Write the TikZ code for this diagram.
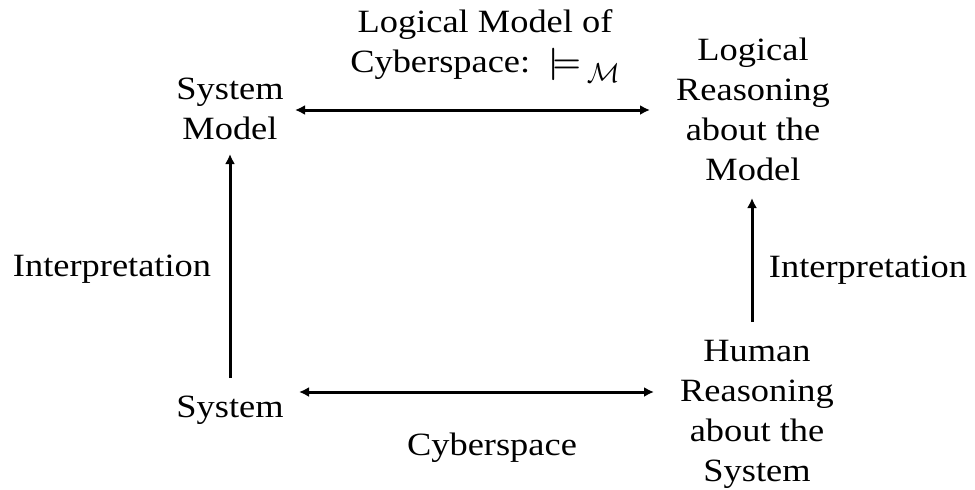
\documentclass[tikz,border=0pt]{standalone}
\usepackage{fontspec}
\setmainfont{Liberation Serif}[FakeStretch=1.12]
\usetikzlibrary{arrows.meta}
\begin{document}
\begin{tikzpicture}[x=1pt,y=-1pt,
  lbl/.style={align=center, anchor=base, inner sep=0pt, font=\fontsize{32.5}{40}\selectfont},
  conn/.style={line width=3pt, {Latex[length=10pt,width=10pt]}-{Latex[length=10pt,width=10pt]}},
  upconn/.style={line width=3pt, -{Latex[length=10pt,width=10pt]}}]
\useasboundingbox (0,0) rectangle (975,490);
\node[lbl] (sm) at (230,139) {System\\Model};
\node[lbl] (lr) at (753,180) {Logical\\Reasoning\\about the\\Model};
\node[lbl] (lm) at (485,72) {Logical Model of\\Cyberspace:\ \ \scalebox{1.3}{\boldmath$\models$}\kern6pt\raisebox{-10pt}{\scalebox{1.1}{$\mathcal{M}$}}};
\node[lbl] (sys) at (230,417) {System};
\node[lbl] (hr) at (757,481) {Human\\Reasoning\\about the\\System};
\node[lbl] (il) at (112,276) {Interpretation};
\node[lbl] (ir) at (868,277) {Interpretation};
\node[lbl] (cy) at (492,455) {Cyberspace};
\coordinate (smR) at (295,110);
\coordinate (lrL) at (650,110);
\coordinate (sysR) at (299,392);
\coordinate (hrL) at (654,392);
\coordinate (sysT) at (230,378);
\coordinate (smB) at (230,154);
\coordinate (hrT) at (752,322);
\coordinate (lrB) at (752,198);
\draw[conn] (smR) -- (lrL);
\draw[conn] (sysR) -- (hrL);
\draw[upconn] (sysT) -- (smB);
\draw[upconn] (hrT) -- (lrB);
\end{tikzpicture}
\end{document}
